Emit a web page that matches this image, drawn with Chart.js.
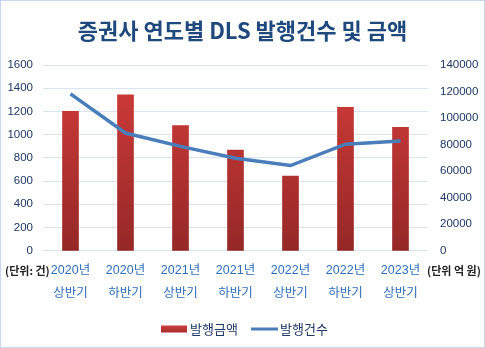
<!DOCTYPE html>
<html><head><meta charset="utf-8">
<script src="https://cdn.jsdelivr.net/npm/chart.js@4/dist/chart.umd.min.js"></script>
<style>html,body{margin:0;padding:0;background:#fff}#wrap{width:485px;height:348px;position:relative}</style>
</head><body><div id="wrap"><canvas id="c" width="485" height="348"></canvas></div>
<script>
const categories = [["2020년","상반기"],["2020년","하반기"],["2021년","상반기"],["2021년","하반기"],["2022년","상반기"],["2022년","하반기"],["2023년","상반기"]];
const issueAmount = [105000, 117500, 94300, 75800, 56300, 108100, 93000];
const issueCount = [1351, 1014, 899, 797, 734, 918, 945];
const leftTicks = [0,200,400,600,800,1000,1200,1400,1600];
const rightTicks = [0,20000,40000,60000,80000,100000,120000,140000];
const titleText = "증권사 연도별 DLS 발행건수 및 금액";
const seriesNames = ["발행금액","발행건수"];
const unitLeft = "(단위: 건)";
const unitRight = "(단위 억 원)";

const FONT = "'Liberation Sans','Noto Sans CJK KR',sans-serif";
const KFONT = "'Noto Sans CJK KR','Liberation Sans',sans-serif";

const extras = {
  id:'extras',
  beforeDraw(chart){
    const ctx = chart.ctx;
    ctx.save();
    ctx.fillStyle='#fff';ctx.fillRect(0,0,chart.width,chart.height);
    ctx.restore();
  },
  afterDraw(chart){
    const ctx = chart.ctx;
    ctx.save();
    ctx.strokeStyle='#C6D9F0';ctx.lineWidth=1;
    ctx.strokeRect(0.5,0.5,chart.width-1,chart.height-1);
    ctx.fillStyle='#222';
    ctx.font="bold 11px "+KFONT;
    ctx.textBaseline='middle';
    ctx.textAlign='left';
    ctx.fillText(unitLeft,5,271);
    ctx.fillText(unitRight,427,271);
    // legend
    const y=329;
    const g=ctx.createLinearGradient(0,y-4,0,y+4);
    g.addColorStop(0,'#D04040');g.addColorStop(1,'#A52A2A');
    ctx.fillStyle=g;ctx.fillRect(161,y-3.5,26,7);
    ctx.strokeStyle='#4A7EBB';ctx.lineWidth=3;
    ctx.beginPath();ctx.moveTo(251,y);ctx.lineTo(278,y);ctx.stroke();
    ctx.fillStyle='#1F3864';
    ctx.font="13px "+KFONT;
    ctx.fillText(seriesNames[0],190,y);
    ctx.fillText(seriesNames[1],280,y);
    ctx.restore();
  }
};

function barGrad(context){
  const chart=context.chart;const a=chart.chartArea;
  if(!a) return '#C0392B';
  const g=chart.ctx.createLinearGradient(0,a.top,0,a.bottom);
  g.addColorStop(0,'#D33D3A');g.addColorStop(1,'#952827');
  return g;
}

new Chart(document.getElementById('c'),{
  data:{
    labels:categories,
    datasets:[
      {type:'line',label:seriesNames[1],data:issueCount,yAxisID:'y',borderColor:'#4A7EBB',borderWidth:3.5,pointRadius:0,tension:0,order:0},
      {type:'bar',label:seriesNames[0],data:issueAmount,yAxisID:'y1',backgroundColor:barGrad,barThickness:16,order:1}
    ]
  },
  options:{
    responsive:false,animation:false,
    layout:{padding:{left:0,right:0,top:0,bottom:43}},
    plugins:{
      legend:{display:false},
      tooltip:{enabled:false},
      title:{display:true,text:titleText,color:'#1F497D',font:{family:KFONT,size:22,weight:'bold'},padding:{top:17,bottom:21.6}}
    },
    scales:{
      x:{
        grid:{display:false},border:{display:false},
        ticks:{color:'#2F6EBA',font:{family:FONT,size:12.5,lineHeight:1.85},padding:0,maxRotation:0,autoSkip:false}
      },
      y:{
        position:'left',min:0,max:1600,
        afterBuildTicks(s){s.ticks=leftTicks.map(v=>({value:v}));},
        grid:{color:'#D9E3F1',drawTicks:false,lineWidth:1},border:{display:false},
        ticks:{color:'#1F3864',font:{family:FONT,size:11.5},padding:10,callback:v=>String(v)},
        afterFit(s){s.width=43;}
      },
      y1:{
        position:'right',min:0,max:140000,
        afterBuildTicks(s){s.ticks=rightTicks.map(v=>({value:v}));},
        grid:{display:false,drawTicks:false},border:{display:false},
        ticks:{color:'#1F3864',font:{family:FONT,size:11.5},padding:12,callback:v=>String(v)},
        afterFit(s){s.width=57;}
      }
    }
  },
  plugins:[extras]
});
</script></body></html>
